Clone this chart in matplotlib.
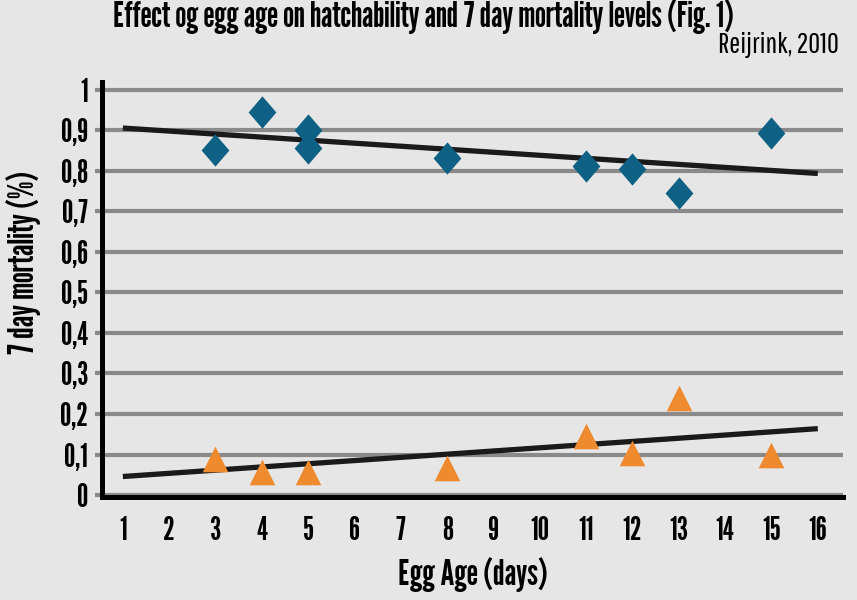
import matplotlib
matplotlib.use("Agg")
import matplotlib.pyplot as plt
import numpy as np

# data
egg_age = [3, 4, 5, 5, 8, 11, 12, 13, 15]
hatch = [0.85, 0.945, 0.90, 0.855, 0.832, 0.812, 0.803, 0.744, 0.893]

egg_age_mort = [3, 4, 5, 8, 11, 12, 13, 15]
mortality = [0.09, 0.056, 0.058, 0.066, 0.147, 0.105, 0.24, 0.098]

trend_x = [1, 16]
trend_hatch = [0.905, 0.793]
trend_mort = [0.046, 0.164]

xticks = list(range(1, 17))
yticks = [0, 0.1, 0.2, 0.3, 0.4, 0.5, 0.6, 0.7, 0.8, 0.9, 1]
ylabels = ["0", "0,1", "0,2", "0,3", "0,4", "0,5", "0,6", "0,7", "0,8", "0,9", "1"]

bg = "#e6e6e6"
blue = "#0e6184"
orange = "#f08a2e"
FONT = ["League Gothic", "DejaVu Sans"]
LIGHT = ["Pathway Gothic One", "DejaVu Sans"]

fig = plt.figure(figsize=(8.57, 6), dpi=100, facecolor=bg)
ax = fig.add_axes([0.119, 0.172, 0.865, 0.691], facecolor=bg)

ax.set_xlim(0.55, 16.55)
ax.set_ylim(-0.004, 1.018)

ax.set_yticks(yticks)
ax.set_yticklabels(ylabels, family=FONT, fontsize=23)
ax.set_xticks(xticks)
ax.set_xticklabels([str(t) for t in xticks], family=FONT, fontsize=23)
ax.tick_params(axis="y", length=5, width=3, color="#8a8a8a", pad=5)
ax.tick_params(axis="x", length=0, pad=14)
ax.grid(axis="y", color="#8a8a8a", linewidth=3)
ax.set_axisbelow(True)

for s in ["top", "right"]:
    ax.spines[s].set_visible(False)
for s in ["left", "bottom"]:
    ax.spines[s].set_linewidth(3.6)
    ax.spines[s].set_color("black")

# diamond a bit taller than wide, like the original markers
diamond = [(0, 1), (0.86, 0), (0, -1), (-0.86, 0), (0, 1)]

ax.plot(trend_x, trend_hatch, color="#1a1a1a", linewidth=3.8, solid_capstyle="butt", zorder=2)
ax.plot(trend_x, trend_mort, color="#1a1a1a", linewidth=3.8, solid_capstyle="butt", zorder=2)
ax.scatter(egg_age, hatch, marker=diamond, s=540, color=blue, zorder=3, linewidths=0)
ax.scatter(egg_age_mort, mortality, marker="^", s=340, color=orange, zorder=3, linewidths=0)

fig.text(0.027, 0.563, "7 day mortality (%)", family=FONT, fontsize=25.5,
         rotation=90, ha="center", va="center")
ax.set_xlabel("Egg Age (days)", family=FONT, fontsize=26, labelpad=8)

fig.text(0.132, 0.955, "Effect og egg age on hatchability and 7 day mortality levels (Fig. 1)",
         family=FONT, fontsize=25.4, va="baseline", ha="left")
fig.text(0.979, 0.912, "Reijrink, 2010", family=LIGHT, fontsize=21, va="baseline", ha="right")

fig.savefig("out.png", dpi=100, facecolor=bg)
